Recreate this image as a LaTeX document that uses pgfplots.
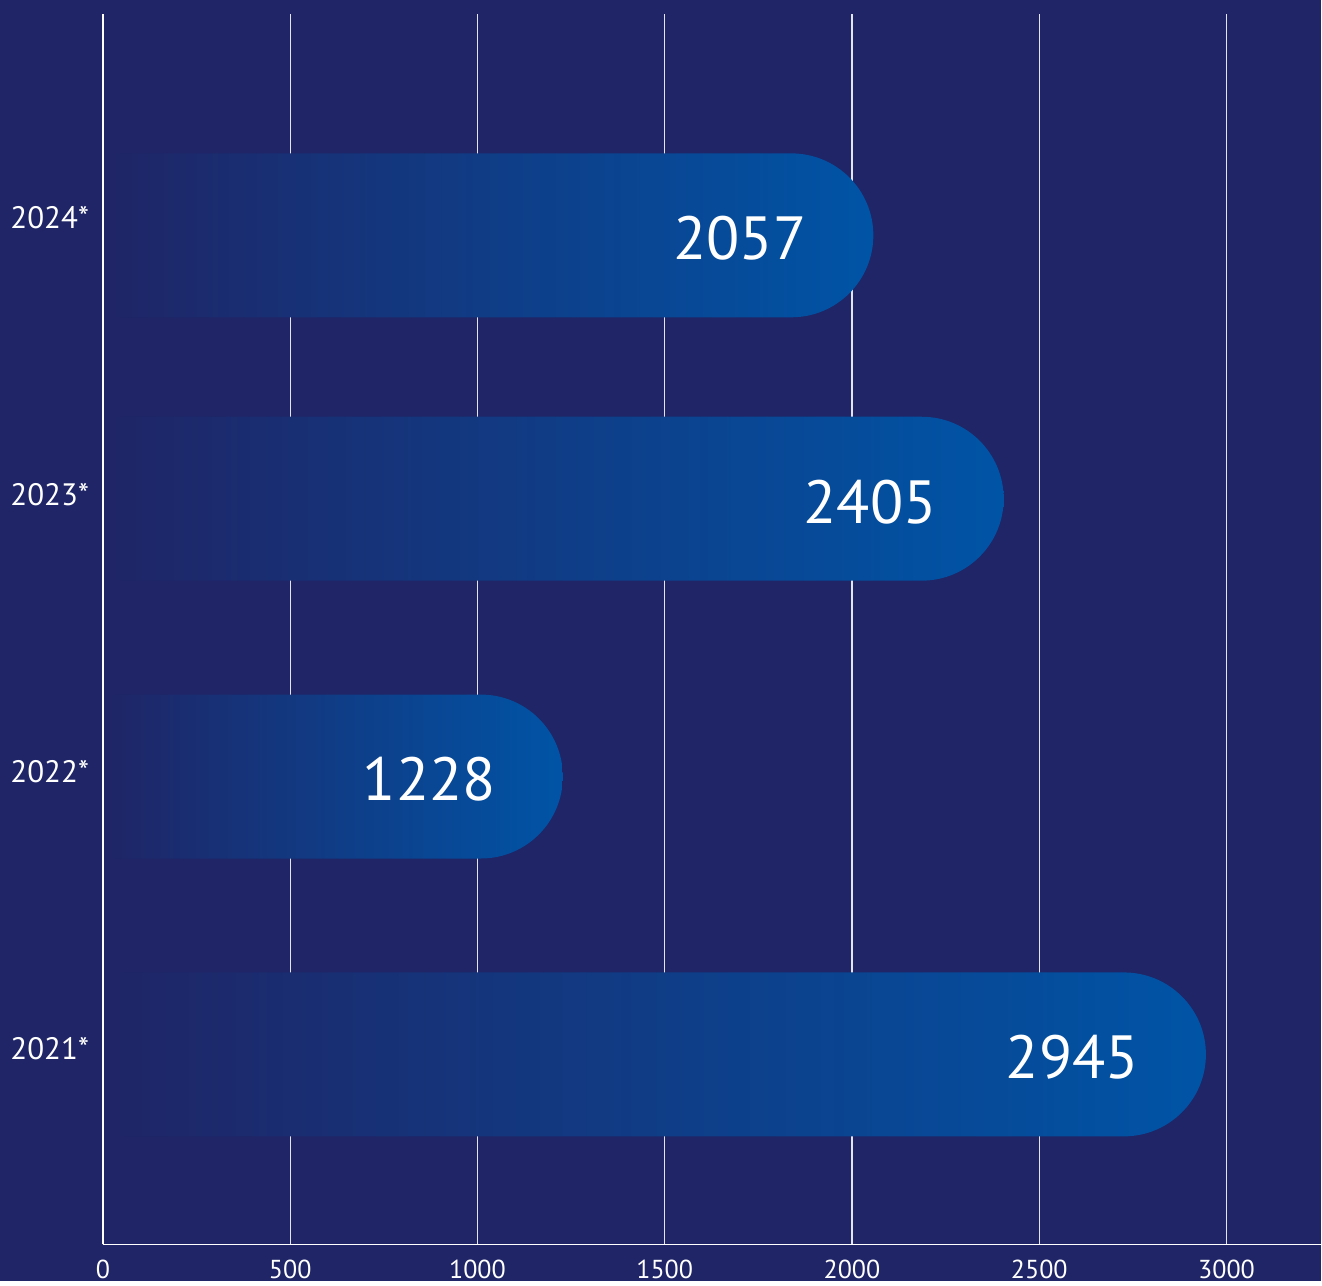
\documentclass[border=0pt]{standalone}
\usepackage{pgfplots}
\pgfplotsset{compat=1.18}
\usepackage{fontspec}
\setmainfont{PT Sans}
\definecolor{bgc}{HTML}{1F2566}
\definecolor{barblue}{HTML}{0054A6}
\definecolor{gridc}{HTML}{E2E4EF}
\begin{document}
\begin{tikzpicture}
\fill[bgc] (-51.5pt,-18.5pt) rectangle (609.5pt,622.5pt);
\begin{axis}[
  at={(0,0)}, anchor=south west,
  scale only axis, width=609.5pt, height=615.5pt,
  xmin=0, xmax=3253, ymin=0, ymax=1231,
  axis x line=bottom, axis y line=left,
  axis line style={white, line width=0.75pt, -},
  xtick={0,500,...,3000},
  ytick={196,473,750,1027},
  yticklabels={2021*,2022*,2023*,2024*},
  major tick length=0pt,
  xtick style={draw=none}, ytick style={draw=none},
  xmajorgrids=true, grid style={gridc, line width=0.6pt},
  tick label style={text=white},
  xticklabel style={font=\fontsize{13}{15}\selectfont, yshift=-4.5pt},
  yticklabel style={font=\fontsize{15.5}{17}\selectfont, xshift=-3.5pt},
  /pgf/number format/1000 sep={},
  /pgf/number format/assume math mode=true,
  clip=false,
  bar/.style={draw=none, left color=bgc, right color=barblue, rounded corners=41pt},
  lab/.style={draw=none, mark=none, point meta=x, nodes near coords,
    every node near coord/.append style={anchor=east, xshift=-30pt, yshift=-1.5pt, text=white, font=\fontsize{30.5}{34}\selectfont}},
]
% bars: value 2945, 1228, 2405, 2057 (left edge open, right end rounded)
\addplot[bar] coordinates {(10,272) (2945,272) (2945,108) (10,108)};
\addplot[bar] coordinates {(10,550) (1228,550) (1228,386) (10,386)};
\addplot[bar] coordinates {(10,828) (2405,828) (2405,664) (10,664)};
\addplot[bar] coordinates {(10,1091.5) (2057,1091.5) (2057,927.5) (10,927.5)};
% value labels
\addplot[lab] coordinates {(2945,190) (1228,468) (2405,746) (2057,1009.5)};
\end{axis}
\end{tikzpicture}
\end{document}
